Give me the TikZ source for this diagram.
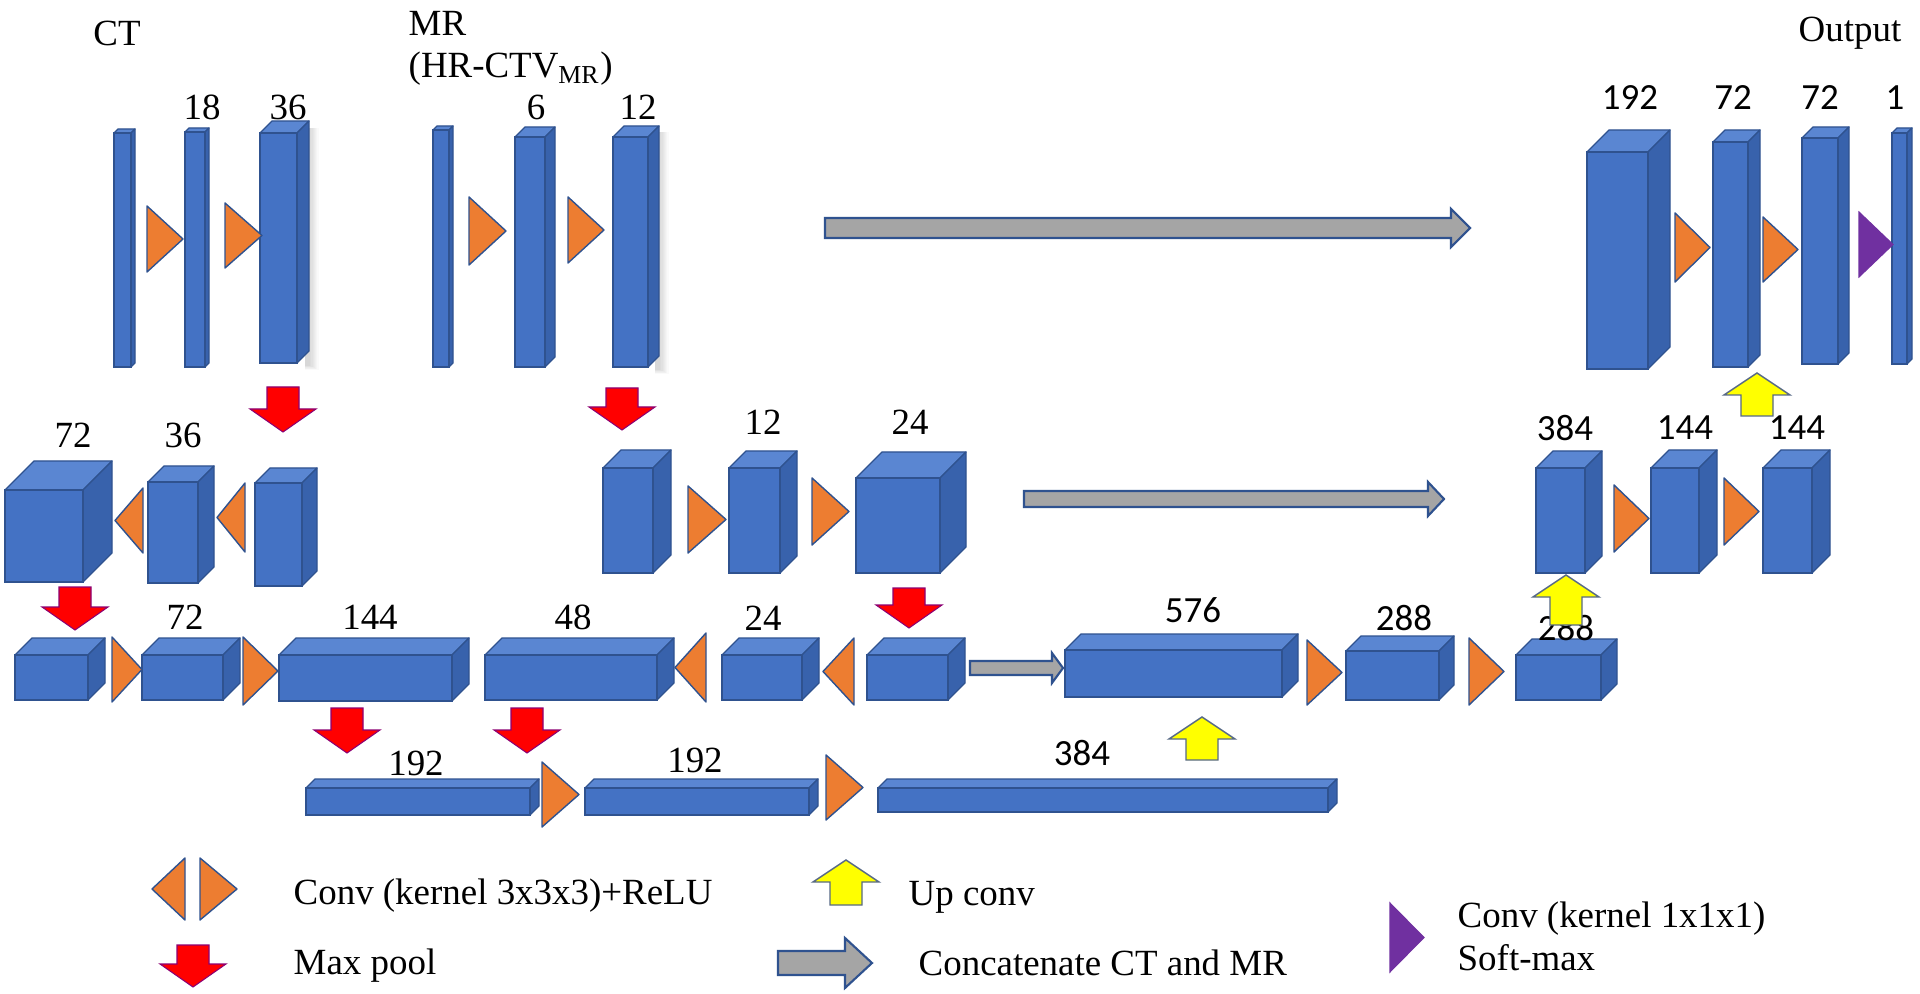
\documentclass[tikz,border=0pt]{standalone}
\usepackage{fontspec}
\setmainfont{Liberation Serif}
\newfontfamily\calfont{Carlito}
\usetikzlibrary{fit}
\definecolor{bfront}{HTML}{4472C4}
\definecolor{btop}{HTML}{5A86D2}
\definecolor{bside}{HTML}{3862AC}
\definecolor{bedge}{HTML}{2F528F}
\definecolor{corange}{HTML}{ED7D31}
\definecolor{cpurple}{HTML}{7030A0}
\definecolor{cgray}{HTML}{A5A5A5}
\definecolor{cred}{HTML}{FF0000}
\definecolor{cyellow}{HTML}{FFFF00}
\tikzset{
  blkfront/.style={fill=bfront, draw=bedge, line width=0.35pt, inner sep=0pt, outer sep=0pt},
  blktop/.style={fill=btop, draw=bedge, line width=0.35pt, line join=round},
  blkside/.style={fill=bside, draw=bedge, line width=0.35pt, line join=round},
  convtri/.style={fill=corange, draw=bedge, line width=0.4pt, line join=round},
  smtri/.style={fill=cpurple, draw=cpurple, line width=0.3pt},
  poolarr/.style={fill=cred, draw=red!55!blue, line width=0.3pt},
  upcarr/.style={fill=cyellow, draw=gray!50!bedge, line width=0.4pt},
  catarrow/.style={fill=cgray, draw=bedge, line width=0.6pt},
  tnum/.style={font=\fontsize{10.5}{12}\selectfont, inner sep=0pt},
  cnum/.style={font=\fontsize{10.5}{12}\selectfont\calfont, inner sep=0pt},
  ttext/.style={font=\fontsize{10.5}{12}\selectfont, inner sep=0pt},
}
% name, x1, y1, x2, y2, depth
\newcommand\blk[6]{%
  \path[blktop] (#2,#3) -- ({#2+#6},{#3-#6}) -- ({#4+#6},{#3-#6}) -- (#4,#3) -- cycle;
  \path[blkside] (#4,#3) -- ({#4+#6},{#3-#6}) -- ({#4+#6},{#5-#6}) -- (#4,#5) -- cycle;
  \node[blkfront, fit={(#2,#3) (#4,#5)}] (#1) {};}
% style, base x, apex x, y top, y bottom
\newcommand\mytri[5]{\path[#1] (#2,#4) -- (#3,{(#4+#5)/2}) -- (#2,#5) -- cycle;}
% centre x, top y, tip y
\newcommand\dnarr[3]{\path[poolarr] ({#1-16},#2) -- ({#1+16},#2) -- ({#1+16},{#3-23}) -- ({#1+33},{#3-23}) -- (#1,#3) -- ({#1-33},{#3-23}) -- ({#1-16},{#3-23}) -- cycle;}
% centre x, tip y, bottom y
\newcommand\uparr[3]{\path[upcarr] ({#1-16},#3) -- ({#1+16},#3) -- ({#1+16},{#2+22}) -- ({#1+33},{#2+22}) -- (#1,#2) -- ({#1-33},{#2+22}) -- ({#1-16},{#2+22}) -- cycle;}
% x start, x tip, y centre, shaft half, head half, head length
\newcommand\catarr[6]{\path[catarrow] (#1,{#3-#4}) -- ({#2-#6},{#3-#4}) -- ({#2-#6},{#3-#5}) -- (#2,#3) -- ({#2-#6},{#3+#5}) -- ({#2-#6},{#3+#4}) -- (#1,{#3+#4}) -- cycle;}
% soft shadow right of and below a block
\newcommand\shad[3]{\foreach \i in {1,...,8}{\fill[black,opacity=0.018] ({#1-4},{#2+4}) rectangle ({#1+1.2*\i},{#3+0.6*\i});}}
\begin{document}
\begin{tikzpicture}[x=0.01cm,y=-0.01cm]
\useasboundingbox (0,0) rectangle (1920,994);
\fill[white] (0,0) rectangle (1920,994);

% ---- titles
\node[ttext] (tct) at (117,33) {CT};
\node[ttext, anchor=west] (tmr) at (408,23) {MR};
\node[ttext, anchor=west] (thr) at (408,69) {(HR-CTV\textsubscript{MR})};
\node[ttext] (tout) at (1850,33) {Output};

% ---- top row: CT branch
\shad{309}{124}{365}
\shad{659}{128}{369}
\blk{ct1}{114}{133}{131}{367}{4}
\blk{ct2}{185}{132}{205}{367}{4}
\blk{ct3}{260}{133}{297}{363}{12}
\mytri{convtri}{147}{183}{206}{272}
\mytri{convtri}{225}{262}{203}{268}
% MR branch
\blk{mr1}{433}{130}{449}{367}{4}
\blk{mr2}{515}{137}{545}{367}{10}
\blk{mr3}{613}{137}{648}{367}{11}
\mytri{convtri}{469}{506}{197}{265}
\mytri{convtri}{568}{604}{197}{263}
% output branch
\blk{o192}{1587}{152}{1648}{369}{22}
\blk{o72a}{1713}{142}{1748}{367}{12}
\blk{o72b}{1802}{138}{1838}{364}{11}
\blk{o1}{1892}{133}{1907}{364}{5}
\mytri{convtri}{1675}{1710}{213}{282}
\mytri{convtri}{1763}{1798}{217}{282}
\mytri{smtri}{1859}{1893}{212}{277}
\catarr{825}{1470}{228}{10}{19}{19}

% ---- second row
\blk{c72}{5}{490}{83}{582}{29}
\blk{c36}{148}{482}{198}{583}{16}
\blk{c36b}{255}{483}{302}{586}{15}
\mytri{convtri}{143}{115}{488}{553}
\mytri{convtri}{245}{217}{483}{552}
\blk{m1}{603}{468}{653}{573}{18}
\blk{m12}{729}{468}{780}{573}{17}
\blk{m24}{856}{478}{940}{573}{26}
\mytri{convtri}{688}{726}{486}{553}
\mytri{convtri}{812}{849}{478}{545}
\catarr{1024}{1444}{499}{8}{17}{16}
\blk{r384}{1536}{468}{1585}{573}{17}
\blk{r144a}{1651}{468}{1699}{573}{18}
\blk{r144b}{1763}{468}{1812}{573}{18}
\mytri{convtri}{1614}{1649}{485}{552}
\mytri{convtri}{1724}{1759}{478}{545}

% ---- third row
\blk{a}{15}{655}{88}{700}{17}
\blk{b}{142}{655}{223}{700}{17}
\blk{c}{279}{655}{452}{701}{17}
\blk{d}{485}{655}{657}{700}{17}
\blk{e}{722}{655}{802}{700}{17}
\blk{f}{867}{655}{948}{700}{17}
\blk{g}{1065}{650}{1282}{697}{16}
\blk{h}{1346}{651}{1439}{700}{15}
\blk{i}{1516}{655}{1601}{700}{16}
\mytri{convtri}{112}{142}{637}{702}
\mytri{convtri}{243}{278}{637}{705}
\mytri{convtri}{706}{675}{633}{702}
\mytri{convtri}{854}{823}{638}{705}
\mytri{convtri}{1307}{1342}{640}{705}
\mytri{convtri}{1469}{1504}{638}{705}
\catarr{970}{1063}{668}{7}{15}{11}

% ---- fourth row
\blk{p}{306}{788}{530}{815}{9}
\blk{q}{585}{788}{809}{815}{9}
\blk{r}{878}{788}{1328}{812}{9}
\mytri{convtri}{542}{579}{762}{827}
\mytri{convtri}{826}{863}{755}{820}

% ---- size labels
\node[tnum] (l18) at (202,107) {18};
\node[tnum] (l36) at (288,107) {36};
\node[tnum] (l6) at (536,107) {6};
\node[tnum] (l12) at (638,107) {12};
\node[cnum] (l192o) at (1630,98) {192};
\node[cnum] (l72o) at (1733,98) {72};
\node[cnum] (l72p) at (1820,98) {72};
\node[cnum] (l1) at (1895,98) {1};
\node[tnum] (l72c) at (73,435) {72};
\node[tnum] (l36c) at (183,435) {36};
\node[tnum] (l12m) at (763,422) {12};
\node[tnum] (l24m) at (910,422) {24};
\node[cnum] (l384r) at (1565,428) {384};
\node[cnum] (l144r) at (1685,428) {144};
\node[cnum] (l144s) at (1797,428) {144};
\node[tnum] (l72b) at (185,617) {72};
\node[tnum] (l144c) at (370,617) {144};
\node[tnum] (l48d) at (573,617) {48};
\node[tnum] (l24e) at (763,618) {24};
\node[cnum] (l576) at (1193,610) {576};
\node[cnum] (l288h) at (1404,618) {288};
\node[cnum] (l288i) at (1566,628) {288};
\node[tnum] (l192p) at (416,763) {192};
\node[tnum] (l192q) at (695,760) {192};
\node[cnum] (l384r4) at (1082,753) {384};

% ---- pooling and up-conv arrows
\dnarr{283}{387}{432}
\dnarr{622}{388}{430}
\dnarr{75}{587}{630}
\dnarr{909}{588}{628}
\dnarr{347}{708}{753}
\dnarr{527}{708}{753}
\uparr{1757}{373}{416}
\uparr{1566}{575}{625}
\uparr{1202}{717}{760}

% ---- legend
\mytri{convtri}{185}{152}{858}{920}
\mytri{convtri}{200}{237}{858}{920}
\node[ttext, anchor=base west] (lg1) at (293,904) {Conv (kernel 3x3x3)+ReLU};
\dnarr{193}{945}{987}
\node[ttext, anchor=base west] (lg2) at (293,974) {Max pool};
\uparr{846}{860}{905}
\node[ttext, anchor=base west] (lg3) at (908,905) {Up conv};
\catarr{778}{872}{963}{12}{25}{27}
\node[ttext, anchor=base west] (lg4) at (918,975) {Concatenate CT and MR};
\mytri{smtri}{1390}{1424}{903}{972}
\node[ttext, anchor=base west] (lg5) at (1457,927) {Conv (kernel 1x1x1)};
\node[ttext, anchor=base west] (lg6) at (1457,970) {Soft-max};
\end{tikzpicture}
\end{document}
